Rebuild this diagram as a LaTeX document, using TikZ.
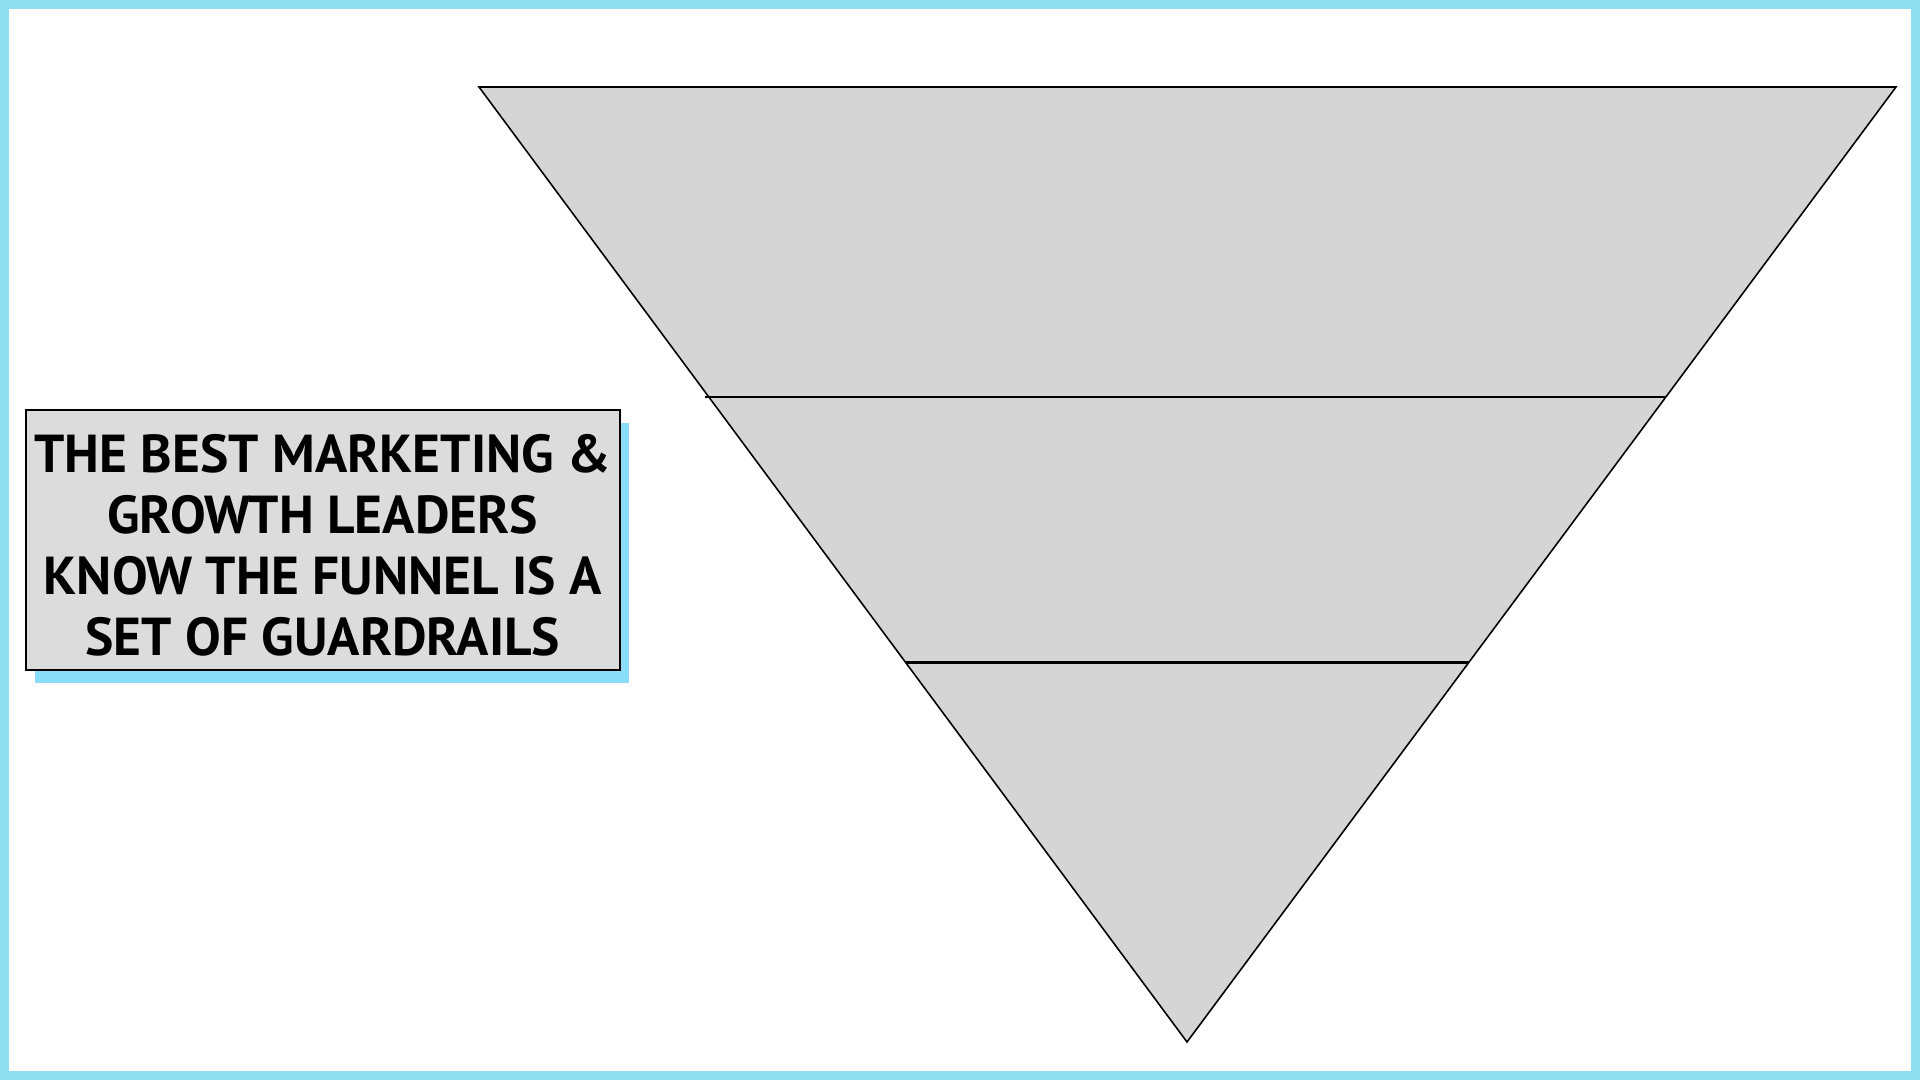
\documentclass[tikz,border=0pt]{standalone}
\usepackage{fontspec}
\setmainfont{PT Sans}
\usetikzlibrary{positioning,calc,shadows}
\definecolor{frameblue}{HTML}{8FE1F2}
\definecolor{shadowblue}{HTML}{8BDCF7}
\definecolor{funnelgray}{HTML}{D5D5D5}
\definecolor{boxgray}{HTML}{DCDCDC}
\tikzset{
  frame/.style={draw=frameblue,line width=0.18cm},
  funnel/.style={draw=black,fill=funnelgray,line width=0.45pt,line join=miter},
  divider/.style={draw=black,line width=0.8pt},
  callout/.style={draw=black,fill=boxgray,line width=0.5pt,align=center,
                  minimum width=5.94cm,minimum height=2.60cm,inner sep=0.05cm,
                  font=\fontsize{15.2}{17.4}\selectfont\bfseries,
                  drop shadow={shadow xshift=0.09cm,shadow yshift=-0.13cm,
                               fill=shadowblue,opacity=1}}
}

\begin{document}
\begin{tikzpicture}[x=1cm,y=1cm]
\useasboundingbox (0,0) rectangle (19.2,10.8);
\fill[white] (0,0) rectangle (19.2,10.8);
\draw[frame] (0,0) rectangle (19.2,10.8);

% funnel corners
\coordinate (tl) at (4.79,9.93);
\coordinate (tr) at (18.96,9.93);
\coordinate (tip) at (11.87,0.38);
\path[funnel] (tl) -- (tr) -- (tip) -- cycle;

% band dividers
\coordinate (d1l) at ($(tl)!0.3246!(tip)$);
\coordinate (d1r) at ($(tr)!0.3246!(tip)$);
\coordinate (d2l) at ($(tl)!0.6026!(tip)$);
\coordinate (d2r) at ($(tr)!0.6026!(tip)$);
\draw[divider] ([xshift=-0.04cm]d1l) -- (d1r);
\draw[divider] (d2l) -- (d2r);

\node[callout] (msg) at (3.227,5.40)
  {\rule{0pt}{0.49cm}THE BEST MARKETING \&\\ GROWTH LEADERS\\ KNOW THE FUNNEL IS A\\ SET OF GUARDRAILS};
\end{tikzpicture}
\end{document}
